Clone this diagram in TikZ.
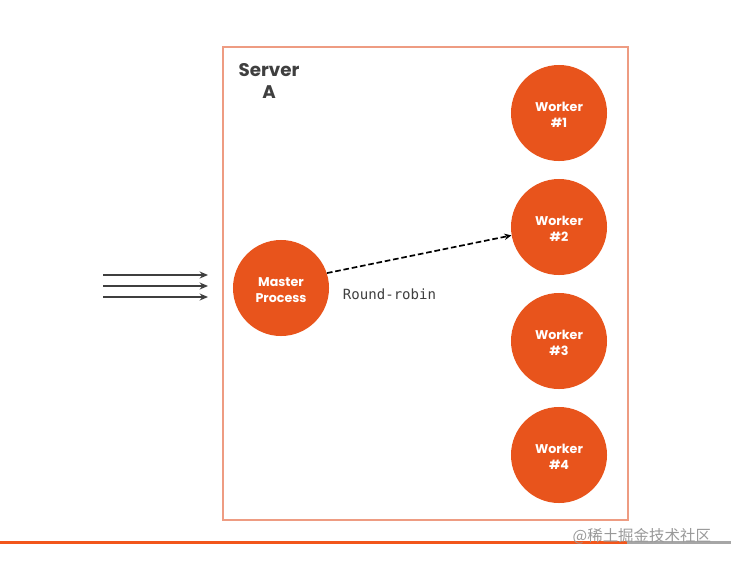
\documentclass[tikz,border=0pt]{standalone}
\usepackage{fontspec}
\setsansfont{Poppins}
\setmonofont{DejaVu Sans Mono}
\newfontfamily\cjk{Noto Sans CJK SC}
\usepackage{tikz}
\usetikzlibrary{arrows.meta}

\definecolor{procorange}{HTML}{E8541C}
\definecolor{boxline}{HTML}{EE9C82}
\definecolor{barorange}{HTML}{F2561B}
\definecolor{labelgray}{HTML}{3F3F3F}

\newcommand{\proclabel}[2]{\raisebox{-1.5pt}[\height][\depth]{\shortstack{#1\\[1.6pt]#2}}}

\begin{document}
\begin{tikzpicture}[x=0.025cm,y=-0.025cm,
    proc/.style={circle, fill=procorange, minimum size=2.4cm, inner sep=0pt,
      text=white, font=\sffamily\bfseries\fontsize{9}{11.4}\selectfont, align=center},
    feed/.style={draw=labelgray, line width=1.3pt, -{Stealth[length=6pt,width=5pt]}}]
    \useasboundingbox (0,0) rectangle (731,561);

    % server box
    \draw[boxline, line width=1.1pt] (223,47) rectangle (628,520);
    \node[font=\sffamily\bfseries\fontsize{13}{16}\selectfont, text=labelgray, align=center]
      (server) at (269,81) {Server\\A};

    % processes
    \node[proc] (master) at (281,288) {\proclabel{Master}{Process}};
    \node[proc] (w1) at (559,113) {\proclabel{Worker}{\#1}};
    \node[proc] (w2) at (559,227) {\proclabel{Worker}{\#2}};
    \node[proc] (w3) at (559,341) {\proclabel{Worker}{\#3}};
    \node[proc] (w4) at (559,455) {\proclabel{Worker}{\#4}};

    % round-robin dispatch
    \draw[black, line width=1.2pt, dash pattern=on 4pt off 2pt,
      -{Stealth[length=5pt,width=4.5pt]}] (master.18) -- (w2.190);
    \node[font=\ttfamily\fontsize{10}{12}\selectfont, text=labelgray, anchor=west]
      (rr) at (338,294) {Round-robin};

    % incoming requests
    \foreach \y [count=\i] in {275,286,297} {
      \coordinate (in\i) at (103,\y);
      \coordinate (out\i) at (208,\y);
      \draw[feed] (in\i) -- (out\i);
    }

    % bottom bar
    \coordinate (bar0) at (0,542.5);
    \coordinate (bar1) at (627,542.5);
    \coordinate (bar2) at (731,542.5);
    \draw[barorange, line width=1.6pt] (bar0) -- (bar1);
    \draw[gray!70, line width=1.6pt] (bar1) -- (bar2);
    \node[font=\cjk\fontsize{11}{13}\selectfont, text=gray!80, anchor=east]
      (mark) at (716,536) {@稀土掘金技术社区};
\end{tikzpicture}
\end{document}
